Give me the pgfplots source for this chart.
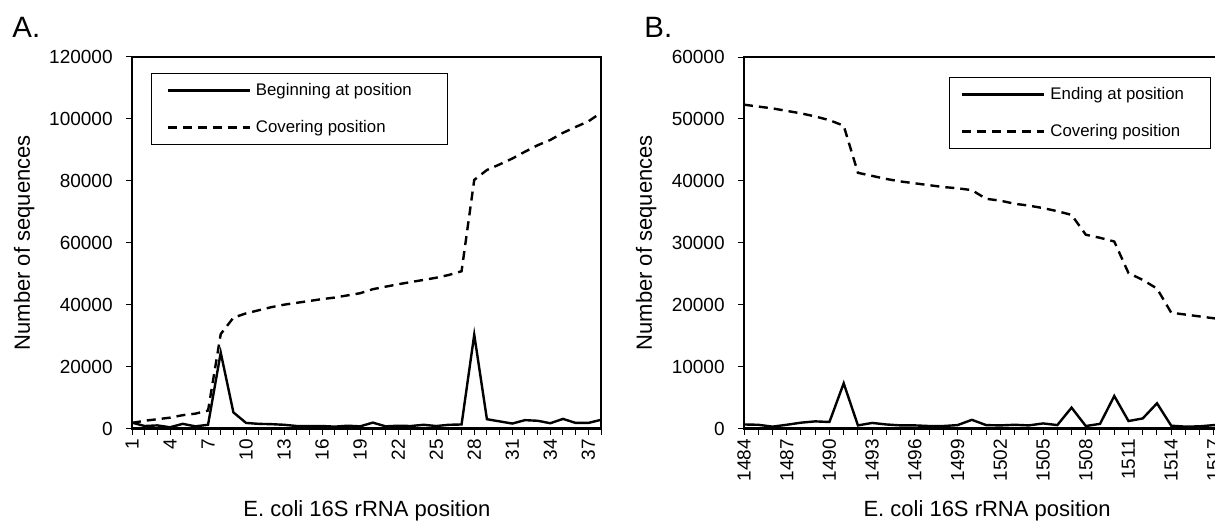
\documentclass[border=0pt]{standalone}
\usepackage{pgfplots}
\usepackage{pgfplotstable}
\pgfplotsset{compat=1.18}
\usepackage{fontspec}
\setmainfont{Liberation Sans}

\pgfplotstableread{
pos begin cover
1 1900 1800
2 800 2500
3 1000 3000
4 400 3500
5 1500 4300
6 700 4800
7 1200 5800
8 24500 30500
9 5200 35800
10 1800 37200
11 1500 38200
12 1400 39200
13 1200 40000
14 800 40600
15 800 41200
16 800 41800
17 600 42300
18 900 43000
19 700 43700
20 1900 45000
21 700 45800
22 900 46600
23 800 47300
24 1200 48000
25 800 48700
26 1200 49600
27 1300 50800
28 30300 80300
29 3000 83500
30 2300 85300
31 1600 87200
32 2700 89400
33 2500 91500
34 1700 93200
35 3100 95500
36 1800 97400
37 1800 99200
38 2800 102000
}\tableA

\pgfplotstableread{
pos ending cover
1484 650 52300
1485 600 52000
1486 300 51700
1487 600 51300
1488 940 50900
1489 1150 50400
1490 1050 49800
1491 7300 48900
1492 500 41300
1493 900 40800
1494 650 40300
1495 500 39900
1496 500 39600
1497 400 39300
1498 400 39000
1499 550 38800
1500 1400 38500
1501 550 37100
1502 500 36800
1503 600 36300
1504 500 36000
1505 820 35600
1506 550 35100
1507 3370 34500
1508 400 31300
1509 750 30800
1510 5250 30200
1511 1200 25100
1512 1630 24000
1513 4070 22600
1514 450 18700
1515 300 18400
1516 350 18100
1517 550 17800
1518 400 17500
}\tableB

\newcommand{\tickfont}{\fontsize{9.5}{11}\selectfont}
\pgfplotsset{
  myax/.style={
    scale only axis,
    height=185.75pt,
    axis line style={line width=1.3pt},
    tick pos=left, tick align=outside,
    major tick length=3pt, minor tick length=3pt,
    tick style={black, line width=0.5pt},
    /pgf/number format/assume math mode=true,
    scaled y ticks=false,
    yticklabel style={font=\tickfont, /pgf/number format/fixed, /pgf/number format/1000 sep={}, inner xsep=6.5pt},
    xticklabel style={font=\tickfont, rotate=90, anchor=east, inner sep=2pt},
    label style={font=\fontsize{11}{13}\selectfont},
    xlabel style={anchor=base},
    legend style={draw=black, line width=0.5pt, fill=white,
      font=\fontsize{8.4}{10}\selectfont,
      nodes={inner sep=0pt, minimum height=17pt},
      row sep=1.5pt, column sep=2.5pt, inner ysep=0pt},
    legend cell align=left,
    legend image code/.code={\draw[##1] (0pt,0pt) -- (41pt,0pt);},
  },
  solidline/.style={black, line width=1.2pt, no markers},
  dashline/.style={black, line width=1.2pt, no markers, dash pattern=on 4.5pt off 3pt},
}

\begin{document}
\begin{tikzpicture}[x=1pt,y=1pt]
\path[use as bounding box] (0,0) rectangle (607.5,260);

\begin{axis}[myax,
  at={(66pt,45.75pt)}, anchor=south west,
  width=234.5pt,
  xmin=1, xmax=38, ymin=0, ymax=120000,
  ytick={0,20000,...,120000},
  xtick={1,4,...,37},
  minor xtick={1,...,38},
  xlabel={E. coli 16S rRNA position},
  ylabel={Number of sequences},
  xlabel style={at={(axis description cs:0.501,-0.238)}},
  ylabel style={at={(axis description cs:-0.230,0.5)}, anchor=center},
  legend style={at={(axis description cs:0.0405,0.957)}, anchor=north west, inner xsep=7.5pt},
]
\addplot[solidline] table[x=pos, y=begin] {\tableA};
\addlegendentry{\makebox[88.5pt][l]{Beginning at position}}
\addplot[dashline] table[x=pos, y=cover] {\tableA};
\addlegendentry{\makebox[88.5pt][l]{Covering position}}
\end{axis}

\begin{axis}[myax,
  at={(372pt,45.75pt)}, anchor=south west,
  width=236.4pt,
  xmin=1484, xmax=1517.2, ymin=0, ymax=60000,
  ytick={0,10000,...,60000},
  xtick={1484,1487,...,1517},
  minor xtick={1484,...,1518},
  xticklabel style={/pgf/number format/1000 sep={}},
  xlabel={E. coli 16S rRNA position},
  ylabel={Number of sequences},
  xlabel style={at={(axis description cs:0.514,-0.238)}},
  ylabel style={at={(axis description cs:-0.207,0.5)}, anchor=center},
  legend style={at={(axis description cs:0.9877,0.946)}, anchor=north east, inner xsep=6pt},
]
\addplot[solidline] table[x=pos, y=ending] {\tableB};
\addlegendentry{\makebox[74pt][l]{Ending at position}}
\addplot[dashline] table[x=pos, y=cover] {\tableB};
\addlegendentry{\makebox[74pt][l]{Covering position}}
\end{axis}

\node[anchor=base west, font=\fontsize{14.7}{16}\selectfont, inner sep=0pt] at (6,241) {A.};
\node[anchor=base west, font=\fontsize{14.7}{16}\selectfont, inner sep=0pt] at (322,241) {B.};
\end{tikzpicture}
\end{document}
